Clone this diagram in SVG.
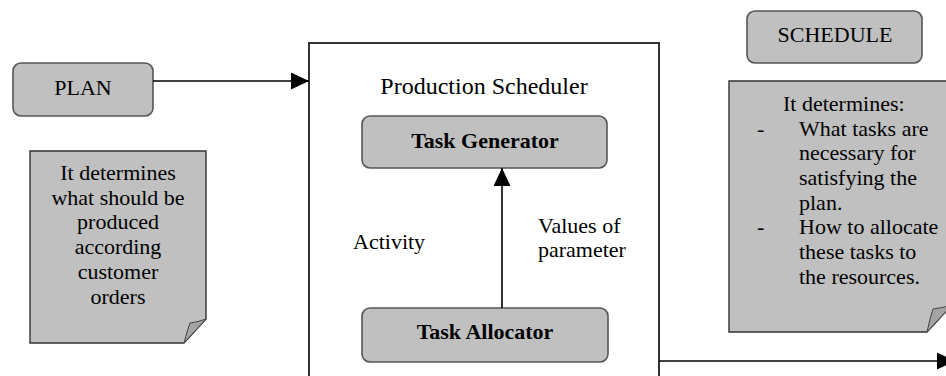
<svg xmlns="http://www.w3.org/2000/svg" width="946" height="376" viewBox="0 0 946 376" font-family="'Liberation Serif', 'DejaVu Serif', 'Times New Roman', serif">
<defs>
<style>
text{font-family:'Liberation Serif','DejaVu Serif','Times New Roman',serif;font-size:22px;fill:#000}
.c{text-anchor:middle}
.b{font-weight:bold}
.title{font-size:24px}
.rbox{fill:#c0c0c0;stroke:#555;stroke-width:1.6}
.note{fill:#c0c0c0;stroke:#333;stroke-width:1.4}
.flap{fill:#a4a4a4;stroke:#444;stroke-width:1}
.frame{fill:none;stroke:#333;stroke-width:2}
.conn{fill:none;stroke:#000;stroke-width:1.6}
</style>
<marker id="ah" markerUnits="userSpaceOnUse" markerWidth="19" markerHeight="18" refX="18" refY="8.5" orient="auto">
<path d="M0,0 L18,8.5 L0,17 Z" fill="#000"/>
</marker>
</defs>
<rect width="946" height="376" fill="#fff"/>

<g id="production-scheduler">
<rect class="frame" x="309" y="43" width="350" height="345"/>
<text class="c title" x="484" y="94">Production Scheduler</text>
</g>

<g id="plan">
<rect class="rbox" x="13" y="63" width="140" height="53" rx="8"/>
<text class="c" x="83" y="95">PLAN</text>
</g>

<g id="plan-note">
<path class="note" d="M30,151 H206 V319 L184,343 H30 Z"/>
<path class="flap" d="M184,343 Q187,331 190,323 Q198,322 206,319 Z"/>
<text class="c" x="118" y="180">It determines</text>
<text class="c" x="118" y="205">what should be</text>
<text class="c" x="118" y="229">produced</text>
<text class="c" x="118" y="254">according</text>
<text class="c" x="118" y="279">customer</text>
<text class="c" x="118" y="304">orders</text>
</g>

<g id="task-generator">
<rect class="rbox" x="362" y="116" width="245" height="52" rx="8"/>
<text class="c b" x="485" y="148">Task Generator</text>
</g>

<g id="task-allocator">
<rect class="rbox" x="362" y="308" width="246" height="54" rx="8"/>
<text class="c b" x="485" y="339">Task Allocator</text>
</g>

<g id="labels">
<text x="353" y="249">Activity</text>
<text x="538" y="233">Values of</text>
<text x="538" y="257">parameter</text>
</g>

<g id="schedule">
<rect class="rbox" x="747" y="11" width="175" height="52" rx="8"/>
<text class="c" x="835" y="42">SCHEDULE</text>
</g>

<g id="schedule-note">
<path class="note" d="M729,81 H952 V305 L927,332 H729 Z"/>
<path class="flap" d="M927,332 Q930,318 933,309 Q942,308 952,305 Z"/>
<text x="783" y="111">It determines:</text>
<text x="757" y="136">-</text>
<text x="799" y="136">What tasks are</text>
<text x="799" y="160">necessary for</text>
<text x="799" y="185">satisfying the</text>
<text x="799" y="210">plan.</text>
<text x="757" y="234">-</text>
<text x="799" y="234">How to allocate</text>
<text x="799" y="259">these tasks to</text>
<text x="799" y="284">the resources.</text>
</g>

<g id="connectors">
<path class="conn" d="M153,81 H309" marker-end="url(#ah)"/>
<path class="conn" d="M502,308 V168" marker-end="url(#ah)"/>
<path class="conn" d="M659,361 H955" marker-end="url(#ah)"/>
</g>
</svg>
